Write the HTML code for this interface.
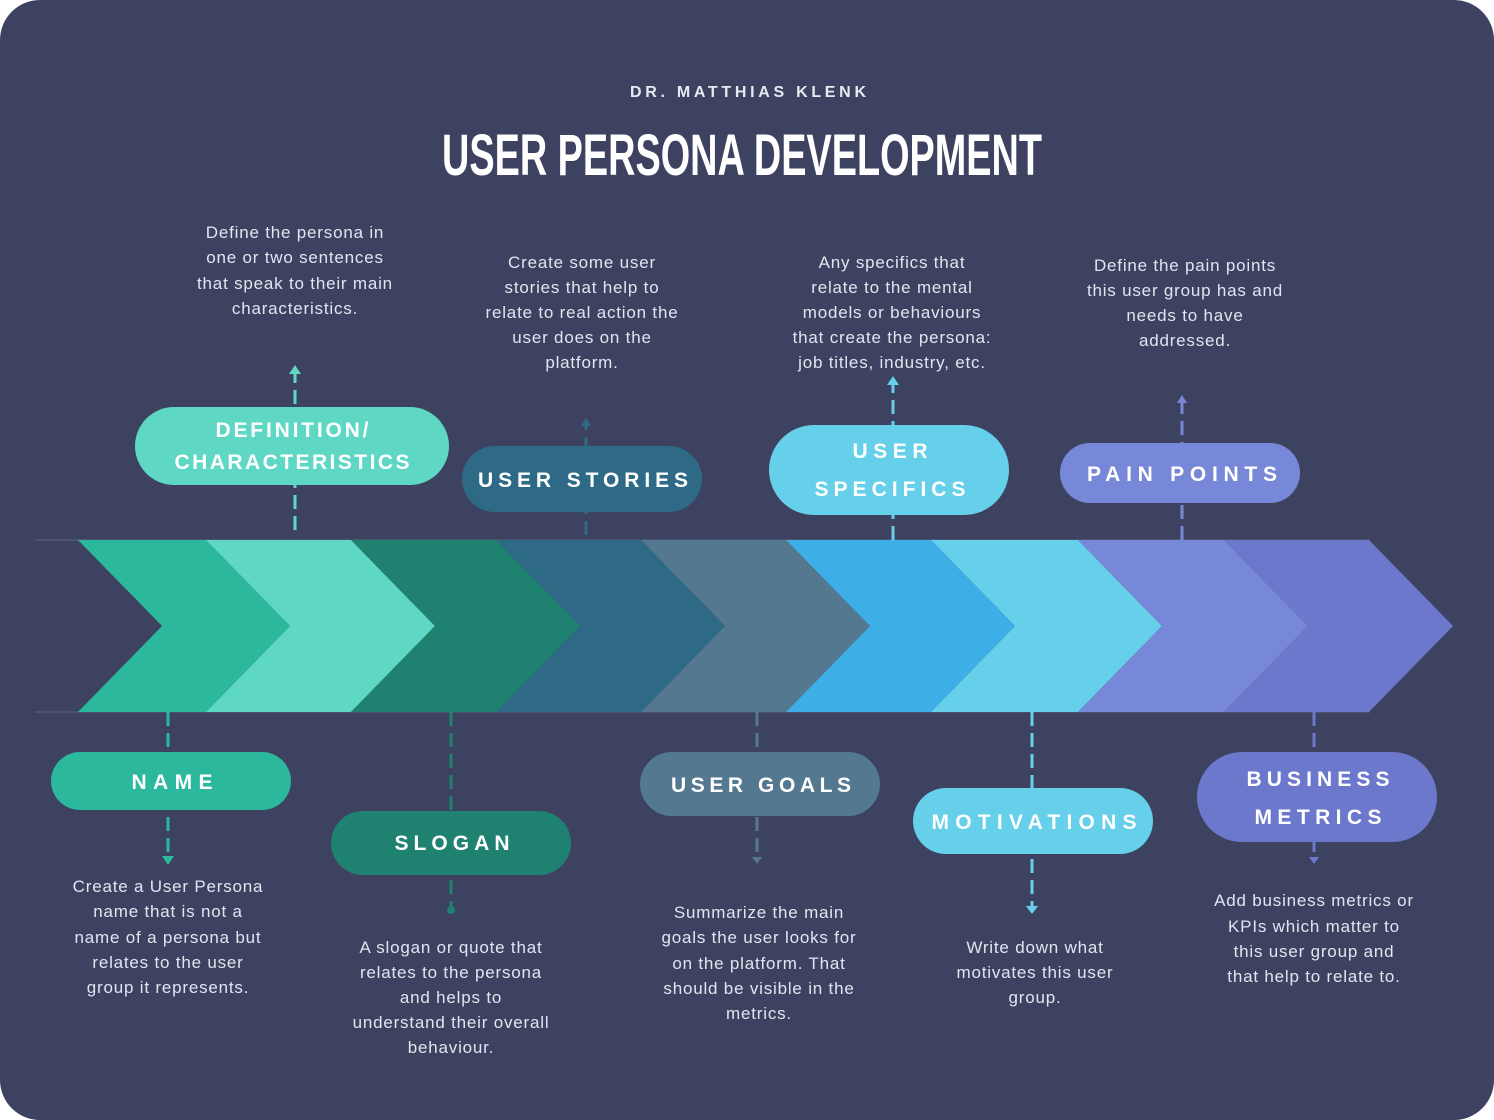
<!DOCTYPE html>
<html><head><meta charset="utf-8"><style>
html,body{margin:0;padding:0;background:#fff;}
svg{display:block;}
.d{font-family:"Liberation Sans",sans-serif;font-size:17px;letter-spacing:0.8px;fill:#e2e5f0;text-anchor:middle;}
.p{font-family:"Liberation Sans",sans-serif;font-weight:bold;font-size:21px;fill:#fff;text-anchor:middle;}
</style></head><body>
<svg width="1494" height="1120" viewBox="0 0 1494 1120" xmlns="http://www.w3.org/2000/svg">
<rect x="0" y="0" width="1494" height="1120" rx="40" fill="#3d4260"/>
<text x="748" y="97" font-family="Liberation Sans,sans-serif" font-weight="bold" font-size="16" fill="#e8eaf2" text-anchor="middle" textLength="236" lengthAdjust="spacing">DR. MATTHIAS KLENK</text>
<text x="742" y="175" font-family="Liberation Sans Narrow,Liberation Sans,sans-serif" font-weight="bold" font-size="58" fill="#ffffff" text-anchor="middle" textLength="600" lengthAdjust="spacingAndGlyphs">USER PERSONA DEVELOPMENT</text>

<line x1="35" y1="540" x2="1370" y2="540" stroke="#4c5270" stroke-width="2"/>
<line x1="35" y1="712" x2="1370" y2="712" stroke="#4c5270" stroke-width="2"/>
<g>
<polygon points="78,540 206,540 290,626 206,712 78,712 162,626" fill="#2bb89c"/>
<polygon points="206,540 351,540 435,626 351,712 206,712 290,626" fill="#5ed8c4"/>
<polygon points="351,540 496,540 580,626 496,712 351,712 435,626" fill="#1f8170"/>
<polygon points="496,540 641,540 725,626 641,712 496,712 580,626" fill="#2e6a85"/>
<polygon points="641,540 786,540 870,626 786,712 641,712 725,626" fill="#547890"/>
<polygon points="786,540 931,540 1015,626 931,712 786,712 870,626" fill="#3daee6"/>
<polygon points="931,540 1078,540 1162,626 1078,712 931,712 1015,626" fill="#66cfe9"/>
<polygon points="1078,540 1224,540 1308,626 1224,712 1078,712 1162,626" fill="#7888d8"/>
<polygon points="1224,540 1369,540 1453,626 1369,712 1224,712 1308,626" fill="#6b78cc"/>
</g>

<g stroke-width="3" stroke-dasharray="14,7" fill="none">
<line x1="295" y1="530" x2="295" y2="372" stroke="#5ed8c4"/>
<line x1="586" y1="535" x2="586" y2="422" stroke="#2e6a85"/>
<line x1="893" y1="540" x2="893" y2="382" stroke="#66cfe9"/>
<line x1="1182" y1="540" x2="1182" y2="400" stroke="#7888d8"/>
<line x1="168" y1="712" x2="168" y2="858" stroke="#2bb89c"/>
<line x1="451" y1="712" x2="451" y2="908" stroke="#1f8170"/>
<line x1="757" y1="712" x2="757" y2="858" stroke="#547890"/>
<line x1="1032" y1="712" x2="1032" y2="908" stroke="#66cfe9"/>
<line x1="1314" y1="712" x2="1314" y2="858" stroke="#6b78cc"/>
</g>
<polygon points="289,374 295,365 301,374" fill="#5ed8c4"/>
<polygon points="581,426 586,418 591,426" fill="#2e6a85"/>
<polygon points="887,385 893,376 899,385" fill="#66cfe9"/>
<polygon points="1177,403 1182,395 1187,403" fill="#7888d8"/>
<polygon points="162,856 168,865 174,856" fill="#2bb89c"/>
<circle cx="451" cy="910" r="4" fill="#1f8170"/>
<polygon points="752,857 757,864 762,857" fill="#547890"/>
<polygon points="1026,906 1032,914 1038,906" fill="#66cfe9"/>
<polygon points="1309,857 1314,864 1319,857" fill="#6b78cc"/>

<rect x="135" y="407" width="314" height="78" rx="39" fill="#5ed8c4"/>
<text class="p" x="292" y="437" textLength="153" lengthAdjust="spacing">DEFINITION/</text>
<text class="p" x="292" y="469" textLength="235" lengthAdjust="spacing">CHARACTERISTICS</text>
<rect x="462" y="446" width="240" height="66" rx="33" fill="#2e6a85"/>
<text class="p" x="583" y="487" textLength="210" lengthAdjust="spacing">USER STORIES</text>
<rect x="769" y="425" width="240" height="90" rx="45" fill="#66cfe9"/>
<text class="p" x="890" y="458" textLength="75" lengthAdjust="spacing">USER</text>
<text class="p" x="890" y="496" textLength="151" lengthAdjust="spacing">SPECIFICS</text>
<rect x="1060" y="443" width="240" height="60" rx="30" fill="#7888d8"/>
<text class="p" x="1182" y="481" textLength="190" lengthAdjust="spacing">PAIN POINTS</text>
<rect x="51" y="752" width="240" height="58" rx="29" fill="#2bb89c"/>
<text class="p" x="172" y="789" textLength="81" lengthAdjust="spacing">NAME</text>
<rect x="331" y="811" width="240" height="64" rx="32" fill="#1f8170"/>
<text class="p" x="452" y="850" textLength="115" lengthAdjust="spacing">SLOGAN</text>
<rect x="640" y="752" width="240" height="64" rx="32" fill="#547890"/>
<text class="p" x="761" y="792" textLength="180" lengthAdjust="spacing">USER GOALS</text>
<rect x="913" y="788" width="240" height="66" rx="33" fill="#66cfe9"/>
<text class="p" x="1034" y="829" textLength="205" lengthAdjust="spacing">MOTIVATIONS</text>
<rect x="1197" y="752" width="240" height="90" rx="45" fill="#6b78cc"/>
<text class="p" x="1318" y="786" textLength="143" lengthAdjust="spacing">BUSINESS</text>
<text class="p" x="1318" y="824" textLength="127" lengthAdjust="spacing">METRICS</text>

<g>
<text class="d" x="295" y="238">Define the persona in</text>
<text class="d" x="295" y="263">one or two sentences</text>
<text class="d" x="295" y="289">that speak to their main</text>
<text class="d" x="295" y="314">characteristics.</text>

<text class="d" x="582" y="268">Create some user</text>
<text class="d" x="582" y="293">stories that help to</text>
<text class="d" x="582" y="318">relate to real action the</text>
<text class="d" x="582" y="343">user does on the</text>
<text class="d" x="582" y="368">platform.</text>

<text class="d" x="892" y="268">Any specifics that</text>
<text class="d" x="892" y="293">relate to the mental</text>
<text class="d" x="892" y="318">models or behaviours</text>
<text class="d" x="892" y="343">that create the persona:</text>
<text class="d" x="892" y="368">job titles, industry, etc.</text>

<text class="d" x="1185" y="271">Define the pain points</text>
<text class="d" x="1185" y="296">this user group has and</text>
<text class="d" x="1185" y="321">needs to have</text>
<text class="d" x="1185" y="346">addressed.</text>

<text class="d" x="168" y="892">Create a User Persona</text>
<text class="d" x="168" y="917">name that is not a</text>
<text class="d" x="168" y="943">name of a persona but</text>
<text class="d" x="168" y="968">relates to the user</text>
<text class="d" x="168" y="993">group it represents.</text>

<text class="d" x="451" y="953">A slogan or quote that</text>
<text class="d" x="451" y="978">relates to the persona</text>
<text class="d" x="451" y="1003">and helps to</text>
<text class="d" x="451" y="1028">understand their overall</text>
<text class="d" x="451" y="1053">behaviour.</text>

<text class="d" x="759" y="918">Summarize the main</text>
<text class="d" x="759" y="943">goals the user looks for</text>
<text class="d" x="759" y="969">on the platform. That</text>
<text class="d" x="759" y="994">should be visible in the</text>
<text class="d" x="759" y="1019">metrics.</text>

<text class="d" x="1035" y="953">Write down what</text>
<text class="d" x="1035" y="978">motivates this user</text>
<text class="d" x="1035" y="1003">group.</text>

<text class="d" x="1314" y="906">Add business metrics or</text>
<text class="d" x="1314" y="932">KPIs which matter to</text>
<text class="d" x="1314" y="957">this user group and</text>
<text class="d" x="1314" y="982">that help to relate to.</text>
</g>
</svg>
</body></html>
